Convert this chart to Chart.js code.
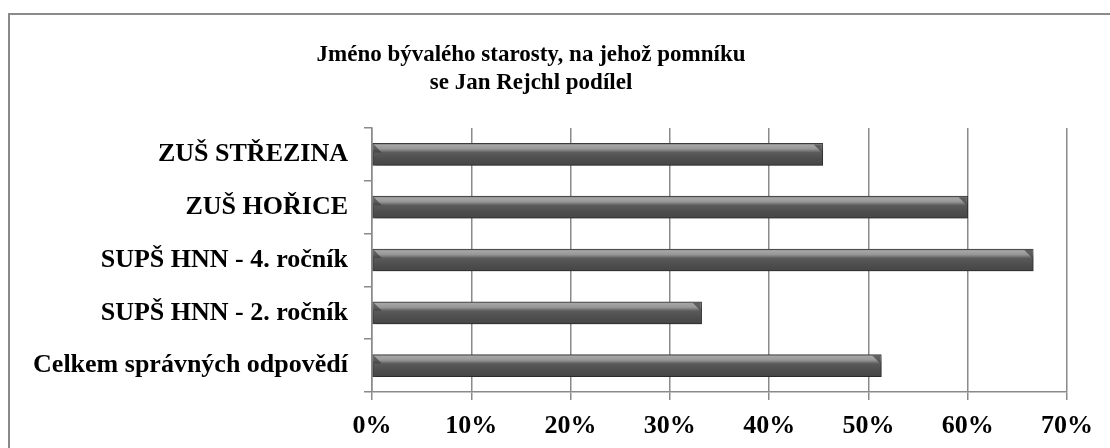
<!DOCTYPE html>
<html>
<head>
<meta charset="utf-8">
<script src="https://cdn.jsdelivr.net/npm/chart.js@4"></script>
<style>
  html, body { margin: 0; padding: 0; background: #fff; }
  body { width: 1110px; height: 448px; position: relative; overflow: hidden; }
  #frame {
    position: absolute; left: 8px; top: 13px; width: 1200px; height: 600px;
    border-left: 2px solid #8a8a8a; border-top: 2px solid #8a8a8a;
  }
  #chart { position: absolute; left: 0; top: 0; }
</style>
</head>
<body>
<div id="frame"></div>
<canvas id="chart" width="1110" height="448"></canvas>
<script>
// --- data ---
const titleLines = ['Jméno bývalého starosty, na jehož pomníku', 'se Jan Rejchl podílel'];
const categories = ['ZUŠ STŘEZINA', 'ZUŠ HOŘICE', 'SUPŠ HNN - 4. ročník', 'SUPŠ HNN - 2. ročník', 'Celkem správných odpovědí'];
const percentValues = [45.4, 60.0, 66.6, 33.2, 51.3];
const axisMax = 70;
const axisStep = 10;

const serif = '"Liberation Serif", "Times New Roman", serif';
const lineGrey = '#8a8a8a';
const barThick = 22;

// bar body: shaded like the old Excel "cylinder" bars
function barGradient(ctx) {
  const chart = ctx.chart;
  const y = chart.scales.y;
  if (!y || ctx.dataIndex === undefined) return '#555';
  const mid = y.getPixelForValue(ctx.dataIndex);
  if (!isFinite(mid)) return '#555'; // scales not laid out yet
  const g = chart.ctx.createLinearGradient(0, mid - barThick / 2, 0, mid + barThick / 2);
  g.addColorStop(0, '#707070');
  g.addColorStop(0.08, '#a6a6a6');
  g.addColorStop(0.25, '#979797');
  g.addColorStop(0.42, '#5a5a5a');
  g.addColorStop(0.7, '#4e4e4e');
  g.addColorStop(1, '#464646');
  return g;
}

// drop shadow under the bars + little bevel at both ends
const barEffects = {
  id: 'barEffects',
  beforeDatasetsDraw(chart) {
    const c = chart.ctx;
    c.save();
    c.shadowColor = 'rgba(0,0,0,0.3)';
    c.shadowBlur = 5;
    c.shadowOffsetX = 2;
    c.shadowOffsetY = 5;
  },
  afterDatasetsDraw(chart) {
    const c = chart.ctx;
    c.restore();
    const meta = chart.getDatasetMeta(0);
    c.save();
    meta.data.forEach(bar => {
      const top = bar.y - bar.height / 2 + 1;
      const right = bar.x - 1;
      const left = bar.base + 1;
      c.fillStyle = 'rgba(50,50,50,0.6)';
      c.beginPath();
      c.moveTo(right - 8, top);
      c.lineTo(right, top);
      c.lineTo(right, top + 8);
      c.closePath();
      c.fill();
      c.beginPath();
      c.moveTo(left, top);
      c.lineTo(left + 8, top + 8);
      c.lineTo(left, top + 8);
      c.closePath();
      c.fill();
    });
    c.restore();
  }
};

// title sits a bit left of the canvas centre in the original
const titleText = {
  id: 'titleText',
  afterDraw(chart) {
    const c = chart.ctx;
    c.save();
    c.fillStyle = '#000';
    c.font = 'bold 23px ' + serif;
    c.textAlign = 'center';
    c.textBaseline = 'middle';
    c.fillText(titleLines[0], 531, 55);
    c.fillText(titleLines[1], 531, 83);
    c.restore();
  }
};

new Chart(document.getElementById('chart'), {
  type: 'bar',
  data: {
    labels: categories,
    datasets: [{
      data: percentValues,
      backgroundColor: barGradient,
      borderColor: '#3c3c3c',
      borderWidth: 1,
      borderSkipped: false,
      barThickness: barThick
    }]
  },
  options: {
    indexAxis: 'y',
    responsive: false,
    animation: false,
    layout: { padding: { top: 128, right: 43, left: 0, bottom: 0 } },
    plugins: {
      legend: { display: false },
      title: { display: false },
      tooltip: { enabled: false }
    },
    scales: {
      x: {
        min: 0,
        max: axisMax,
        ticks: {
          stepSize: axisStep,
          color: '#000',
          padding: 11,
          font: { family: serif, size: 26, weight: 'bold' },
          callback: v => v + '%'
        },
        grid: { color: lineGrey, lineWidth: 1.5, tickLength: 8 },
        border: { color: lineGrey, width: 1.5 },
        afterFit: s => { s.height = 56; }
      },
      y: {
        offset: true,
        ticks: {
          color: '#000',
          padding: 16,
          font: { family: serif, size: 26, weight: 'bold' }
        },
        grid: { color: lineGrey, lineWidth: 1.5, tickLength: 8, offset: true, drawOnChartArea: false },
        border: { color: lineGrey, width: 1.5 },
        afterFit: s => { s.width = 372; }
      }
    }
  },
  plugins: [barEffects, titleText]
});
</script>
</body>
</html>
